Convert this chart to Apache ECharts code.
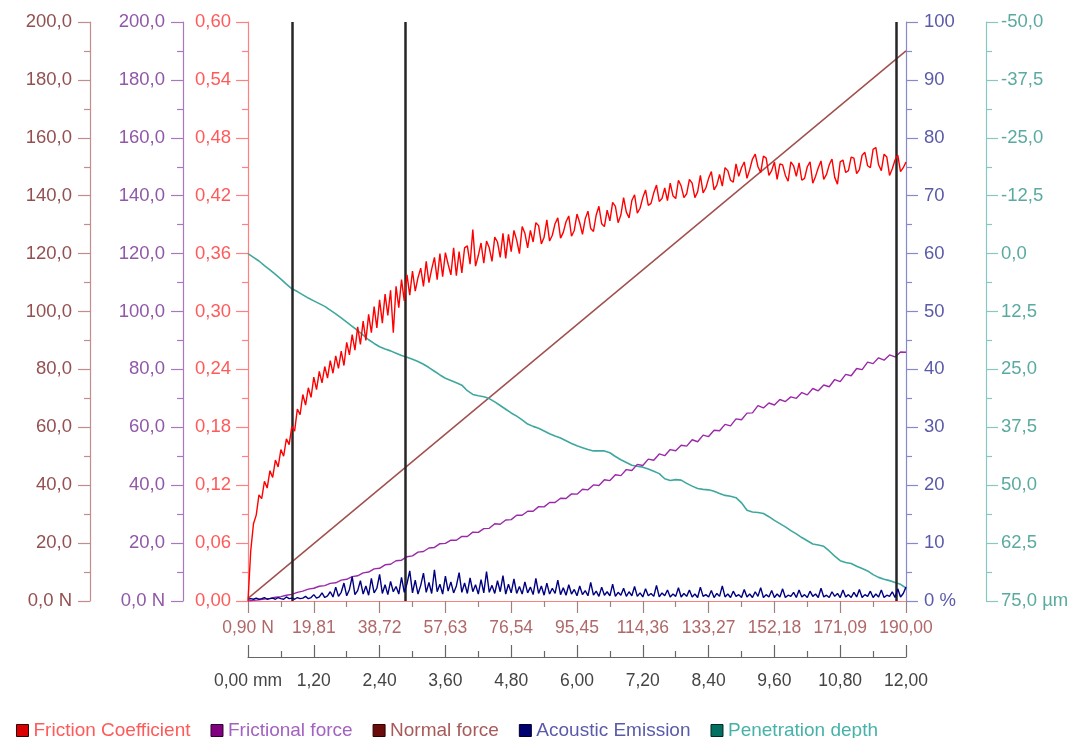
<!DOCTYPE html>
<html>
<head>
<meta charset="utf-8">
<script src="https://cdn.jsdelivr.net/npm/echarts@6/dist/echarts.min.js"></script>
<style>
html,body{margin:0;padding:0;background:#fff;}
#chart{width:1074px;height:738px;}
</style>
</head>
<body>
<div id="chart"></div>
<script>
// ---- Data (x = scratch distance in mm) ----
const cofStepMm = 0.05;
const frictionCoefficient = [
0, 0.052, 0.080, 0.089, 0.110, 0.106, 0.124, 0.117, 0.135, 0.128, 0.146, 0.139, 0.157, 0.150, 0.168, 0.162, 0.181, 0.176, 0.199, 0.193,
0.214, 0.203, 0.221, 0.211, 0.232, 0.219, 0.238, 0.226, 0.243, 0.231, 0.249, 0.236, 0.254, 0.241, 0.259, 0.244, 0.268, 0.255, 0.276, 0.260,
0.284, 0.266, 0.290, 0.270, 0.297, 0.278, 0.305, 0.283, 0.312, 0.288, 0.318, 0.296, 0.322, 0.278, 0.326, 0.304, 0.333, 0.311, 0.338, 0.317,
0.342, 0.321, 0.335, 0.345, 0.326, 0.352, 0.330, 0.344, 0.356, 0.333, 0.360, 0.336, 0.361, 0.349, 0.338, 0.366, 0.337, 0.362, 0.340, 0.366,
0.368, 0.349, 0.385, 0.347, 0.358, 0.371, 0.350, 0.373, 0.366, 0.352, 0.377, 0.372, 0.356, 0.381, 0.355, 0.380, 0.362, 0.384, 0.374, 0.360,
0.388, 0.381, 0.366, 0.384, 0.372, 0.392, 0.389, 0.370, 0.377, 0.395, 0.373, 0.379, 0.391, 0.397, 0.376, 0.382, 0.393, 0.399, 0.378, 0.384,
0.401, 0.392, 0.380, 0.396, 0.404, 0.386, 0.383, 0.400, 0.409, 0.391, 0.388, 0.405, 0.394, 0.413, 0.409, 0.392, 0.400, 0.418, 0.403, 0.397,
0.415, 0.421, 0.402, 0.407, 0.418, 0.426, 0.410, 0.412, 0.423, 0.431, 0.414, 0.417, 0.428, 0.415, 0.433, 0.420, 0.417, 0.436, 0.430, 0.418,
0.422, 0.437, 0.433, 0.418, 0.424, 0.441, 0.423, 0.428, 0.438, 0.445, 0.426, 0.431, 0.442, 0.430, 0.449, 0.446, 0.436, 0.434, 0.453, 0.440,
0.449, 0.455, 0.438, 0.447, 0.458, 0.463, 0.450, 0.444, 0.461, 0.459, 0.441, 0.446, 0.455, 0.437, 0.453, 0.452, 0.441, 0.435, 0.455, 0.451,
0.440, 0.454, 0.436, 0.438, 0.450, 0.455, 0.433, 0.440, 0.449, 0.456, 0.437, 0.442, 0.452, 0.458, 0.439, 0.432, 0.455, 0.457, 0.444, 0.446,
0.460, 0.459, 0.443, 0.447, 0.462, 0.465, 0.451, 0.449, 0.468, 0.470, 0.452, 0.446, 0.463, 0.460, 0.441, 0.448, 0.457, 0.462, 0.445, 0.449, 0.455
];

const forceStepMm = 0.1;
const frictionalForce = [
0.0, 0.2, 0.4, 0.7, 0.9, 1.3, 1.5, 2.0, 2.3, 3.0, 3.4, 4.1, 4.4, 5.1, 5.3, 6.1, 6.3, 7.2, 7.5, 8.4,
8.7, 9.7, 10.0, 11.1, 11.3, 12.5, 12.7, 13.9, 14.1, 15.3, 15.6, 16.9, 17.1, 18.3, 18.5, 19.8, 19.9, 21.0, 21.0, 22.3,
22.3, 23.8, 23.7, 25.0, 25.1, 26.7, 26.5, 28.0, 28.1, 29.6, 29.6, 31.0, 31.0, 32.6, 32.5, 34.0, 34.0, 35.5, 35.4, 37.0,
36.9, 38.6, 38.4, 40.1, 39.9, 41.9, 41.6, 43.6, 43.3, 45.4, 45.1, 47.2, 46.8, 49.0, 48.6, 50.8, 50.2, 52.3, 51.9, 53.8,
53.5, 55.7, 55.0, 57.3, 56.8, 59.0, 58.8, 61.0, 60.5, 62.9, 62.6, 64.9, 65.0, 67.5, 66.7, 68.4, 67.7, 69.6, 68.9, 70.5,
70.0, 72.0, 71.2, 73.4, 72.6, 74.6, 74.0, 76.5, 75.8, 78.3, 77.8, 80.3, 79.9, 82.5, 82.0, 84.0, 83.2, 85.0, 84.3, 86.0, 85.9
];

const normalForceMm = [0, 12];
const normalForce = [0.9, 190.0];

const depthStepMm = 0.1;
const penetrationDepth = [
0.0, 0.8, 1.6, 2.6, 3.5, 4.5, 5.5, 6.6, 7.6, 8.2,
8.9, 9.6, 10.2, 10.8, 11.4, 12.2, 13.0, 13.9, 14.8, 15.7,
16.6, 17.6, 18.6, 19.4, 20.1, 20.6, 21.0, 21.5, 22.0, 22.4,
22.8, 23.3, 23.9, 24.6, 25.4, 26.2, 26.9, 27.4, 27.9, 28.4,
29.6, 30.4, 30.7, 30.9, 31.3, 32.0, 32.8, 33.6, 34.4, 35.1,
35.9, 36.8, 37.3, 37.7, 38.3, 38.9, 39.4, 39.8, 40.4, 41.0,
41.5, 41.9, 42.3, 42.6, 42.6, 42.6, 43.0, 43.8, 44.5, 45.1,
45.7, 45.9, 46.1, 46.5, 47.0, 47.5, 48.6, 49.0, 48.8, 48.9,
49.6, 50.2, 50.7, 50.9, 51.0, 51.3, 51.8, 52.2, 52.4, 52.7,
53.8, 55.4, 55.8, 55.9, 56.1, 56.8, 57.6, 58.3, 59.0, 59.8,
60.5, 61.3, 62.0, 62.7, 62.9, 63.2, 64.2, 65.3, 66.3, 66.7,
66.9, 67.5, 68.0, 68.5, 69.3, 69.9, 70.3, 70.6, 71.0, 71.4,
72.2
];

const aeStepMm = 0.05;
const acousticEmission = [
0.3, 0.4, 0.3, 0.5, 0.3, 0.4, 0.6, 0.3, 0.4, 0.5, 0.3, 0.6, 0.4, 0.3, 0.7, 0.4, 0.5, 0.3, 0.6, 0.4,
0.5, 0.8, 0.4, 0.6, 1.1, 0.5, 0.7, 1.4, 0.6, 0.9, 1.6, 0.7, 2.4, 0.8, 1.5, 3.1, 0.9, 2.0, 4.2, 1.1,
1.8, 3.5, 1.2, 2.6, 1.0, 3.9, 1.4, 2.2, 4.6, 1.3, 2.8, 1.1, 3.4, 1.6, 2.5, 1.2, 4.1, 1.5, 3.0, 5.2,
1.4, 3.6, 1.2, 2.7, 4.8, 1.5, 3.2, 1.3, 5.4, 1.6, 2.9, 1.2, 4.3, 1.7, 3.3, 1.4, 2.6, 4.9, 1.5, 3.1,
1.3, 4.0, 1.6, 2.8, 1.2, 3.7, 1.4, 5.1, 1.5, 2.7, 1.3, 3.5, 1.6, 4.4, 1.2, 2.9, 1.4, 3.8, 1.3, 2.5,
1.2, 3.3, 1.4, 2.4, 1.1, 3.9, 1.3, 2.6, 1.0, 3.1, 1.2, 2.2, 1.3, 3.6, 1.1, 2.3, 1.0, 2.8, 1.2, 2.0,
0.9, 2.6, 1.1, 1.8, 0.9, 3.2, 1.0, 1.7, 0.8, 2.4, 1.0, 1.6, 0.9, 2.9, 0.8, 1.5, 1.0, 2.2, 0.8, 1.6,
0.9, 2.5, 0.8, 1.4, 0.7, 2.1, 0.9, 1.3, 0.8, 2.7, 0.7, 1.4, 0.9, 1.9, 0.7, 1.2, 0.8, 2.3, 0.7, 1.3,
0.8, 1.9, 0.7, 1.2, 0.6, 2.4, 0.8, 1.1, 0.7, 1.8, 0.6, 1.3, 0.8, 2.6, 0.7, 1.2, 0.6, 1.7, 0.8, 1.1,
0.6, 2.0, 0.7, 1.2, 0.6, 1.6, 0.8, 2.3, 0.6, 1.1, 0.7, 1.8, 0.6, 1.2, 0.7, 2.1, 0.6, 1.0, 0.8, 1.5,
0.6, 1.9, 0.7, 1.1, 0.6, 1.7, 0.8, 1.2, 0.6, 2.2, 0.7, 1.0, 0.6, 1.6, 0.8, 1.3, 0.6, 1.9, 0.7, 1.1,
0.6, 1.5, 0.7, 2.0, 0.6, 1.1, 0.8, 1.7, 0.6, 1.2, 0.7, 1.9, 0.6, 1.0, 0.8, 1.6, 0.6, 2.1, 0.7, 1.3, 2.4
];

const criticalPointsMm = [0.80, 2.86, 11.82];

// ---- Tick labels ----
const forceTickLabels = ['0,90 N','19,81','38,72','57,63','76,54','95,45','114,36','133,27','152,18','171,09','190,00'];
const distanceTickLabels = ['0,00 mm','1,20','2,40','3,60','4,80','6,00','7,20','8,40','9,60','10,80','12,00'];
const normalForceTickLabels = ['0,0 N','20,0','40,0','60,0','80,0','100,0','120,0','140,0','160,0','180,0','200,0'];
const frictionalForceTickLabels = ['0,0 N','20,0','40,0','60,0','80,0','100,0','120,0','140,0','160,0','180,0','200,0'];
const cofTickLabels = ['0,00','0,06','0,12','0,18','0,24','0,30','0,36','0,42','0,48','0,54','0,60'];
const aeTickLabels = ['0 %','10','20','30','40','50','60','70','80','90','100'];
const depthTickLabels = ['-50,0','-37,5','-25,0','-12,5','0,0','12,5','25,0','37,5','50,0','62,5','75,0 µm'];

const seriesNames = ['Friction Coefficient','Frictional force','Normal force','Acoustic Emission','Penetration depth'];

// ---- Build ----
const toPairs = (arr, step) => arr.map((v, i) => [+(i * step).toFixed(2), v]);
const FONT = 'Liberation Sans, Arial, sans-serif';

function yAxisDef(opts) {
  const idxOf = v => Math.round((v - opts.min) / opts.interval);
  return {
    type: 'value',
    position: opts.position,
    offset: opts.offset,
    min: opts.min, max: opts.max, interval: opts.interval,
    inverse: !!opts.inverse,
    splitLine: {show: false},
    axisLine: {show: true, onZero: false, lineStyle: {color: opts.lineColor, width: 1.2}},
    axisTick: {show: true, length: 12, lineStyle: {color: opts.lineColor, width: 1.2}},
    minorTick: {show: true, splitNumber: 2, length: 6, lineStyle: {color: opts.lineColor, width: 1.2}},
    axisLabel: {
      color: opts.labelColor, fontSize: 18.5, fontFamily: FONT, margin: opts.margin,
      formatter: v => opts.labels[idxOf(v)]
    }
  };
}

const chart = echarts.init(document.getElementById('chart'), null, {renderer: 'canvas'});

const option = {
  animation: false,
  backgroundColor: '#ffffff',
  grid: {left: 248, right: 168, top: 22, bottom: 137, containLabel: false},
  legend: {
    left: 11, top: 716, itemWidth: 12, itemHeight: 12, itemGap: 20, icon: 'rect',
    textStyle: {fontSize: 19, fontFamily: FONT},
    data: [
      {name: seriesNames[0], itemStyle: {color: '#d80000', borderColor: '#300000', borderWidth: 1}, textStyle: {color: '#ff5a5a'}},
      {name: seriesNames[1], itemStyle: {color: '#800080', borderColor: '#300030', borderWidth: 1}, textStyle: {color: '#a262c2'}},
      {name: seriesNames[2], itemStyle: {color: '#6a0c0c', borderColor: '#300000', borderWidth: 1}, textStyle: {color: '#a85a5a'}},
      {name: seriesNames[3], itemStyle: {color: '#000070', borderColor: '#000030', borderWidth: 1}, textStyle: {color: '#5a5aaa'}},
      {name: seriesNames[4], itemStyle: {color: '#007060', borderColor: '#002a22', borderWidth: 1}, textStyle: {color: '#46b2a8'}}
    ]
  },
  xAxis: [
    {
      type: 'value', position: 'bottom', offset: 0, min: 0, max: 12, interval: 1.2,
      splitLine: {show: false},
      axisLine: {show: true, onZero: false, lineStyle: {color: '#ff8080', width: 1.2}},
      axisTick: {show: true, length: 12, lineStyle: {color: '#a08080', width: 1.2}},
      minorTick: {show: true, splitNumber: 2, length: 6, lineStyle: {color: '#a08080', width: 1.2}},
      axisLabel: {color: '#b06868', fontSize: 17.5, fontFamily: FONT, margin: 18,
        formatter: v => forceTickLabels[Math.round(v / 1.2)]}
    },
    {
      type: 'value', position: 'bottom', offset: 56, min: 0, max: 12, interval: 1.2,
      splitLine: {show: false},
      axisLine: {show: true, onZero: false, lineStyle: {color: '#666666', width: 1.2}},
      axisTick: {show: true, inside: true, length: 12, lineStyle: {color: '#666666', width: 1.2}},
      minorTick: {show: true, splitNumber: 2, length: 6, lineStyle: {color: '#666666', width: 1.2}},
      axisLabel: {color: '#444444', fontSize: 17.5, fontFamily: FONT, margin: 15,
        formatter: v => distanceTickLabels[Math.round(v / 1.2)]}
    }
  ],
  yAxis: [
    yAxisDef({position: 'left', offset: 158, min: 0, max: 200, interval: 20, lineColor: '#c48c8c', labelColor: '#945050', labels: normalForceTickLabels, margin: 18}),
    yAxisDef({position: 'left', offset: 65, min: 0, max: 200, interval: 20, lineColor: '#a878c0', labelColor: '#9058a8', labels: frictionalForceTickLabels, margin: 18}),
    yAxisDef({position: 'left', offset: 0, min: 0, max: 0.6, interval: 0.06, lineColor: '#ff8080', labelColor: '#ff5a5a', labels: cofTickLabels, margin: 17}),
    yAxisDef({position: 'right', offset: 0, min: 0, max: 100, interval: 10, lineColor: '#8888cc', labelColor: '#5a5aa8', labels: aeTickLabels, margin: 18}),
    yAxisDef({position: 'right', offset: 80, min: -50, max: 75, interval: 12.5, inverse: true, lineColor: '#88c8c0', labelColor: '#5aaaa0', labels: depthTickLabels, margin: 15})
  ],
  series: [
    {
      name: seriesNames[2], type: 'line', xAxisIndex: 0, yAxisIndex: 0, symbol: 'none', z: 2,
      data: normalForceMm.map((x, i) => [x, normalForce[i]]),
      lineStyle: {color: '#a0504c', width: 1.5}, itemStyle: {color: '#6a0c0c'}
    },
    {
      name: seriesNames[4], type: 'line', xAxisIndex: 0, yAxisIndex: 4, symbol: 'none', z: 3,
      data: toPairs(penetrationDepth, depthStepMm),
      lineStyle: {color: '#3fa89e', width: 1.6}, itemStyle: {color: '#007060'}
    },
    {
      name: seriesNames[1], type: 'line', xAxisIndex: 0, yAxisIndex: 1, symbol: 'none', z: 4,
      data: toPairs(frictionalForce, forceStepMm),
      lineStyle: {color: '#9a2aa8', width: 1.4}, itemStyle: {color: '#800080'}
    },
    {
      name: seriesNames[3], type: 'line', xAxisIndex: 0, yAxisIndex: 3, symbol: 'none', z: 5,
      data: toPairs(acousticEmission, aeStepMm),
      lineStyle: {color: '#000080', width: 1.4}, itemStyle: {color: '#000070'}
    },
    {
      name: seriesNames[0], type: 'line', xAxisIndex: 0, yAxisIndex: 2, symbol: 'none', z: 6,
      data: toPairs(frictionCoefficient, cofStepMm),
      lineStyle: {color: '#ff0000', width: 1.4}, itemStyle: {color: '#d80000'},
      markLine: {
        silent: true, symbol: ['none', 'none'], label: {show: false},
        lineStyle: {color: '#262626', width: 2.5, type: 'solid'},
        data: criticalPointsMm.map(x => ({xAxis: x}))
      }
    }
  ]
};
chart.setOption(option);
</script>
</body>
</html>
